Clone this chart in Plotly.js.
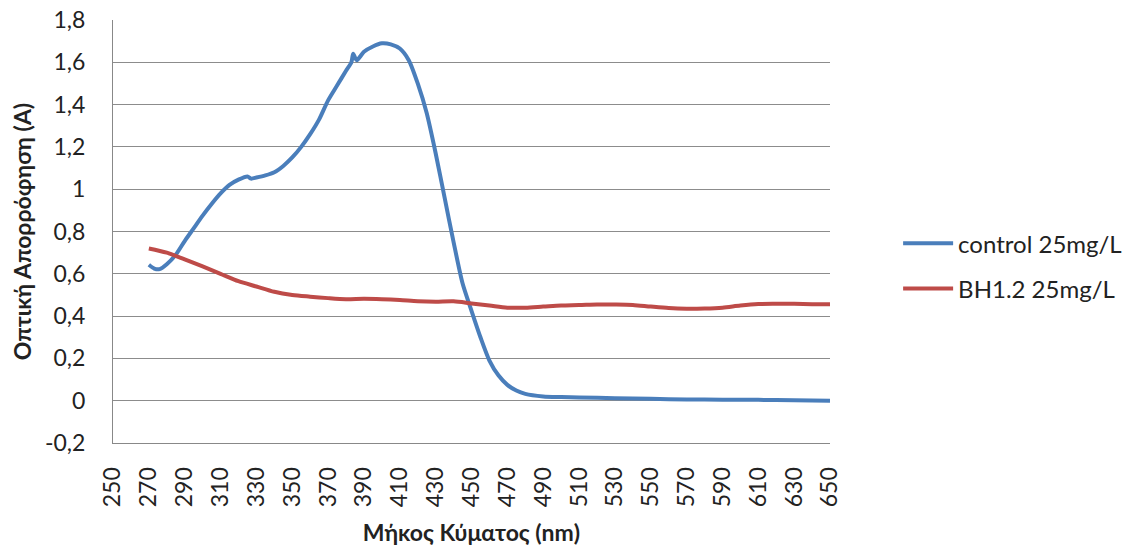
<!DOCTYPE html>
<html><head><meta charset="utf-8">
<script src="https://cdn.plot.ly/plotly-3.0.1.min.js"></script>
<style>html,body{margin:0;padding:0;background:#fff}</style>
</head><body><div id="chart" style="width:1140px;height:551px"></div>
<script>
const controlX = [270,273,276,280,285,290,295,300,305,310,315,320,325,327,330,335,340,345,350,355,360,365,370,375,380,383,384,386,390,395,400,405,410,415,420,425,430,435,440,445,450,455,460,465,470,475,480,490,500,510,530,550,570,590,610,630,650];
const controlY = [0.643,0.625,0.622,0.645,0.69,0.755,0.815,0.875,0.93,0.98,1.02,1.045,1.06,1.05,1.055,1.065,1.08,1.11,1.15,1.2,1.26,1.33,1.42,1.49,1.56,1.6,1.64,1.61,1.65,1.675,1.69,1.685,1.665,1.61,1.5,1.36,1.17,0.96,0.75,0.555,0.425,0.3,0.19,0.12,0.075,0.048,0.032,0.02,0.017,0.015,0.012,0.009,0.006,0.005,0.004,0.002,0.0];
const bhX = [270,280,290,300,310,320,330,340,350,360,370,380,390,400,410,420,430,440,450,460,470,480,490,500,510,520,530,540,550,560,570,580,590,600,610,620,630,640,650];
const bhY = [0.72,0.70,0.668,0.635,0.60,0.565,0.54,0.515,0.50,0.492,0.485,0.48,0.482,0.48,0.476,0.47,0.468,0.47,0.46,0.45,0.44,0.44,0.445,0.45,0.452,0.455,0.455,0.453,0.445,0.438,0.435,0.436,0.44,0.45,0.457,0.458,0.458,0.456,0.456];
const xTicks = [250,270,290,310,330,350,370,390,410,430,450,470,490,510,530,550,570,590,610,630,650];
const yTicks = [-0.2,0,0.2,0.4,0.6,0.8,1,1.2,1.4,1.6,1.8];
const yTickText = ['-0,2','0','0,2','0,4','0,6','0,8','1','1,2','1,4','1,6','1,8'];
const names = ['control 25mg/L','BH1.2 25mg/L'];
const colors = ['#4A7EBB','#BE4B48'];

const font = 'Lato, "Open Sans", "Noto Sans", sans-serif';
const traces = [
  {x: controlX, y: controlY, name: names[0], legendgroup:'a', mode:'lines', line:{color:colors[0], width:4, shape:'spline', smoothing:0.7}},
  {x: bhX, y: bhY, name: names[1], legendgroup:'b', mode:'lines', line:{color:colors[1], width:4, shape:'spline', smoothing:0.8}}
];
const layout = {
  width:1140, height:551,
  margin:{l:113, r:310, t:20, b:108},
  paper_bgcolor:'#fff', plot_bgcolor:'#fff',
  separators:', ',
  font:{family:font, color:'#222', size:24},
  showlegend:true,
  legend:{x:1.095, y:0.418, xanchor:'left', yanchor:'middle', font:{size:24, color:'#222'},
    traceorder:'grouped', tracegroupgap:11, itemwidth:50},
  xaxis:{range:[250,650], tickmode:'array', tickvals:xTicks, ticktext:xTicks.map(String), tickangle:-90,
    showgrid:false, zeroline:false, showline:true, linecolor:'#888', linewidth:1, ticks:'', ticklen:0,
    ticklabelstandoff:14, automargin:false,
    tickfont:{size:23, color:'#222'},
    title:{text:'<b>Μήκος Κύματος (nm)</b>', font:{size:23, color:'#222'}, standoff:18}},
  yaxis:{range:[-0.2,1.8], tickmode:'array', tickvals:yTicks, ticktext:yTickText,
    showgrid:true, gridcolor:'#8c8c8c', gridwidth:1, zeroline:false, showline:true, linecolor:'#888', linewidth:1, ticks:'',
    ticklabelstandoff:22, automargin:false,
    tickfont:{size:23, color:'#222'},
    title:{text:'<b>Οπτική Απορρόφηση (A)</b>', font:{size:23, color:'#222'}, standoff:6}}
};
Plotly.newPlot('chart', traces, layout, {displayModeBar:false, staticPlot:true});
</script></body></html>
